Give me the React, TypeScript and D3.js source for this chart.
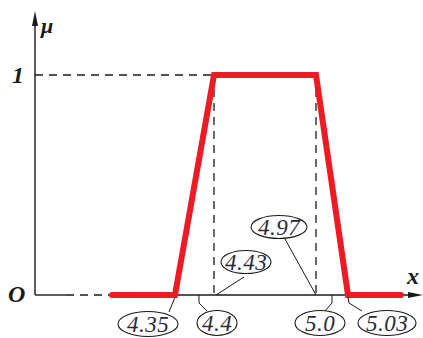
import React from "react"
import * as d3 from "d3"

// membership function (trapezoid), x values and mu values
const xValues = [4.25, 4.35, 4.43, 4.97, 5.03, 5.13]
const muValues = [0, 0, 1, 1, 0, 0]

// callout labels along the x axis
const calloutLabels = ["4.35", "4.4", "4.43", "4.97", "5.0", "5.03"]
const calloutValues = [4.35, 4.4, 4.43, 4.97, 5.0, 5.03]

// dashed guides
const guideValues = [4.43, 4.97]

const yTickLabels = ["O", "1"]

const width = 423
const height = 338
const axisX = 35
const axisY = 295

// schematic (not to scale) axis, so piecewise linear
const x = d3
  .scaleLinear()
  .domain([4.25, 4.35, 4.4, 4.43, 4.97, 5.0, 5.03, 5.13])
  .range([112, 175, 199, 214, 316, 332, 348, 401])

const y = d3.scaleLinear().domain([0, 1]).range([axisY, 75])

// ellipse placement relative to the anchor point on the axis
const calloutLayout = [
  { dx: -27, dy: 29, rx: 30, ry: 12.5, leader: [[0, 2], [-6, 17]] },
  { dx: 18, dy: 28, rx: 20, ry: 12.5, leader: [[0, 0], [0, 8], [8, 16]] },
  { dx: 32, dy: -33, rx: 25, ry: 11.5, leader: [[2, 0], [30, -18]] },
  { dx: -37, dy: -68, rx: 28, ry: 11.5, leader: [[0, 0], [-31, -56]] },
  { dx: -12, dy: 28, rx: 25, ry: 12.5, leader: [[0, 0], [0, 8], [-7, 16]] },
  { dx: 39, dy: 28, rx: 29, ry: 12.5, leader: [[0, 2], [1, 8], [14, 16]] },
]

const serif = "'Liberation Serif', 'Times New Roman', serif"
const ink = "#1a1a1a"

export default function App() {
  const pts = xValues.map((v, i) => [x(v), y(muValues[i])] as [number, number])
  const line = d3.line()
  const dash = "8,6"

  return (
    <svg
      width={width}
      height={height}
      style={{ position: "absolute", left: 0, top: 0, background: "#fff" }}
    >
      {/* x axis: solid stub, dashed gap, solid rest */}
      <line x1={axisX} x2={66} y1={axisY} y2={axisY} stroke={ink} strokeWidth={1.4} />
      <line x1={66} x2={x(4.25)} y1={axisY} y2={axisY} stroke={ink} strokeWidth={1.4} strokeDasharray={dash} />
      <line x1={x(4.25)} x2={410} y1={axisY} y2={axisY} stroke={ink} strokeWidth={1.4} />
      <path d={`M408,${axisY - 3}L423,${axisY}L408,${axisY + 3}Z`} fill={ink} />

      {/* y axis */}
      <line x1={axisX} x2={axisX} y1={axisY} y2={24} stroke={ink} strokeWidth={1.4} />
      <path d={`M${axisX - 3},26L${axisX},11L${axisX + 3},26Z`} fill={ink} />

      {/* dashed guides */}
      <line x1={axisX} x2={x(4.43)} y1={y(1)} y2={y(1)} stroke={ink} strokeWidth={1.3} strokeDasharray={dash} />
      {guideValues.map((g) => (
        <line key={g} x1={x(g)} x2={x(g)} y1={y(1)} y2={axisY} stroke={ink} strokeWidth={1.3} strokeDasharray={dash} />
      ))}

      {/* membership function */}
      <path
        d={line(pts) ?? ""}
        fill="none"
        stroke="#ed1c24"
        strokeWidth={6}
        strokeLinecap="round"
        strokeLinejoin="miter"
      />

      {/* callouts */}
      {calloutValues.map((v, i) => {
        const ax = x(v)
        const lay = calloutLayout[i]
        const lead = d3.line()(lay.leader.map(([a, b]) => [ax + a, axisY + b] as [number, number]))
        const cx = ax + lay.dx
        const cy = axisY + lay.dy
        return (
          <g key={calloutLabels[i]}>
            <path d={lead ?? ""} fill="none" stroke={ink} strokeWidth={1} />
            <ellipse cx={cx} cy={cy} rx={lay.rx} ry={lay.ry} fill="#fff" stroke={ink} strokeWidth={1.1} />
            <text
              x={cx}
              y={cy + 8}
              textAnchor="middle"
              fontFamily={serif}
              fontStyle="italic"
              fontSize={23}
              letterSpacing={0.5}
              fill="#2a2a3a"
            >
              {calloutLabels[i]}
            </text>
          </g>
        )
      })}

      {/* axis labels */}
      <text x={8} y={axisY + 7} fontFamily={serif} fontStyle="italic" fontWeight="bold" fontSize={24} fill={ink}>
        {yTickLabels[0]}
      </text>
      <text x={12} y={y(1) + 8} fontFamily={serif} fontStyle="italic" fontWeight="bold" fontSize={24} fill={ink}>
        {yTickLabels[1]}
      </text>
      <text x={41} y={33} fontFamily={serif} fontStyle="italic" fontWeight="bold" fontSize={22} fill={ink}>
        μ
      </text>
      <text x={407} y={284} fontFamily={serif} fontStyle="italic" fontWeight="bold" fontSize={24} fill={ink}>
        x
      </text>
    </svg>
  )
}
